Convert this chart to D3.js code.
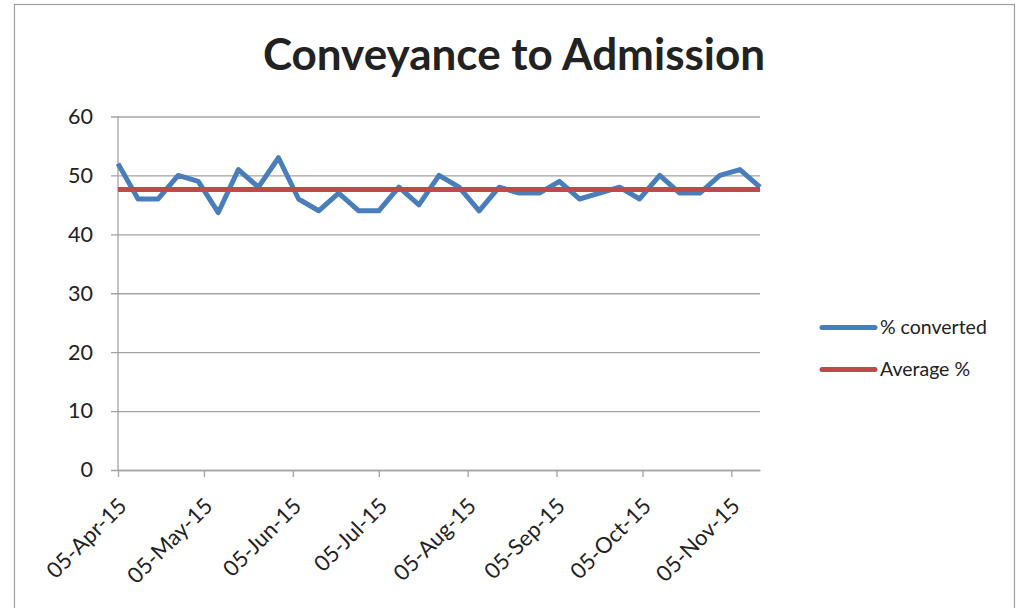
<!DOCTYPE html>
<html>
<head>
<meta charset="utf-8">
<script src="https://cdn.jsdelivr.net/npm/d3@7"></script>
<style>
  html, body { margin: 0; padding: 0; background: #fff; }
  svg { display: block; }
  text { font-family: Lato, "Open Sans", sans-serif; fill: #222; }
</style>
</head>
<body>
<svg id="chart" width="1019" height="608"></svg>
<script>
// ---- data ----
const startDate = "2015-04-05";      // first weekly observation
const pctConverted = [52, 46, 46, 50, 49, 43.7, 51, 48, 53, 46, 44, 47, 44, 44, 48, 45,
                      50, 48, 44, 48, 47, 47, 49, 46, 47, 48, 46, 50, 47, 47, 50, 51, 48];
const averagePct = 47.6;
const yTickValues = [0, 10, 20, 30, 40, 50, 60];
const xTickLabels = ["05-Apr-15", "05-May-15", "05-Jun-15", "05-Jul-15",
                     "05-Aug-15", "05-Sep-15", "05-Oct-15", "05-Nov-15"];
const seriesNames = ["% converted", "Average %"];
const chartTitle = "Conveyance to Admission";

// ---- build ----
const parse = d3.timeParse("%Y-%m-%d");
const start = parse(startDate);
const dates = pctConverted.map((_, i) => d3.timeDay.offset(start, i * 7));
const points = pctConverted.map((v, i) => ({ date: dates[i], value: v }));
const parseTick = d3.timeParse("%d-%b-%y");
const xTickDates = xTickLabels.map(parseTick);

const svg = d3.select("#chart");
const pLeft = 118, pRight = 760, pTop = 116.5, pBottom = 470;

// outer frame
svg.append("rect").attr("x", 14.5).attr("y", 4.5).attr("width", 1000).attr("height", 620)
  .attr("fill", "#fff").attr("stroke", "#a0a0a0").attr("stroke-width", 1.2);

const x = d3.scaleTime().domain([dates[0], dates[dates.length - 1]]).range([pLeft, pRight]);
const y = d3.scaleLinear().domain([0, 60]).range([pBottom, pTop]);

// gridlines + y axis
const yAxis = d3.axisLeft(y).tickValues(yTickValues).tickSize(-(pRight - pLeft)).tickPadding(25);
const gy = svg.append("g").attr("transform", `translate(${pLeft},0)`).call(yAxis);
gy.select(".domain").remove();
gy.selectAll(".tick line").attr("stroke", "#a3a3a3").attr("stroke-width", 1.3).attr("x1", -7);
gy.selectAll(".tick text").attr("font-size", 21.5).attr("fill", "#222")
  .style("font-family", "Lato, 'Open Sans', sans-serif");

// y axis line
svg.append("line").attr("x1", pLeft).attr("x2", pLeft).attr("y1", pTop).attr("y2", pBottom)
  .attr("stroke", "#a3a3a3").attr("stroke-width", 1.3);

// x axis
const xAxis = d3.axisBottom(x).tickValues(xTickDates).tickSize(7)
  .tickFormat((d, i) => xTickLabels[i]).tickSizeOuter(0);
const gx = svg.append("g").attr("transform", `translate(0,${pBottom})`).call(xAxis);
gx.select(".domain").attr("stroke", "#a3a3a3").attr("stroke-width", 1.3);
gx.selectAll(".tick line").attr("stroke", "#a3a3a3").attr("stroke-width", 1.3);
gx.selectAll(".tick text")
  .attr("font-size", 22).attr("fill", "#222")
  .style("font-family", "Lato, 'Open Sans', sans-serif")
  .attr("text-anchor", "end")
  .attr("x", 0).attr("y", 0).attr("dy", "0.35em")
  .attr("transform", "translate(4,32) rotate(-45)");

// series line
const line = d3.line().x(d => x(d.date)).y(d => y(d.value));
svg.append("path").datum(points).attr("d", line)
  .attr("fill", "none").attr("stroke", "#4A7EBB").attr("stroke-width", 5)
  .attr("stroke-linejoin", "round").attr("stroke-linecap", "butt");

// average line
const avgPts = [{ date: dates[0], value: averagePct }, { date: dates[dates.length - 1], value: averagePct }];
svg.append("path").datum(avgPts).attr("d", line)
  .attr("fill", "none").attr("stroke", "#BE4B48").attr("stroke-width", 5);

// title
svg.append("text").attr("x", 514).attr("y", 70).attr("text-anchor", "middle")
  .attr("font-size", 44).attr("font-weight", "bold").attr("fill", "#1a1a1a")
  .text(chartTitle);

// legend
const legendColors = ["#4A7EBB", "#BE4B48"];
const lg = svg.append("g");
seriesNames.forEach((name, i) => {
  const ly = 327.5 + i * 42;
  lg.append("line").attr("x1", 822).attr("x2", 875).attr("y1", ly).attr("y2", ly)
    .attr("stroke", legendColors[i]).attr("stroke-width", 5).attr("stroke-linecap", "round");
  lg.append("text").attr("x", 880).attr("y", ly).attr("dy", "0.35em")
    .attr("font-size", 19.5).text(name);
});
</script>
</body>
</html>
